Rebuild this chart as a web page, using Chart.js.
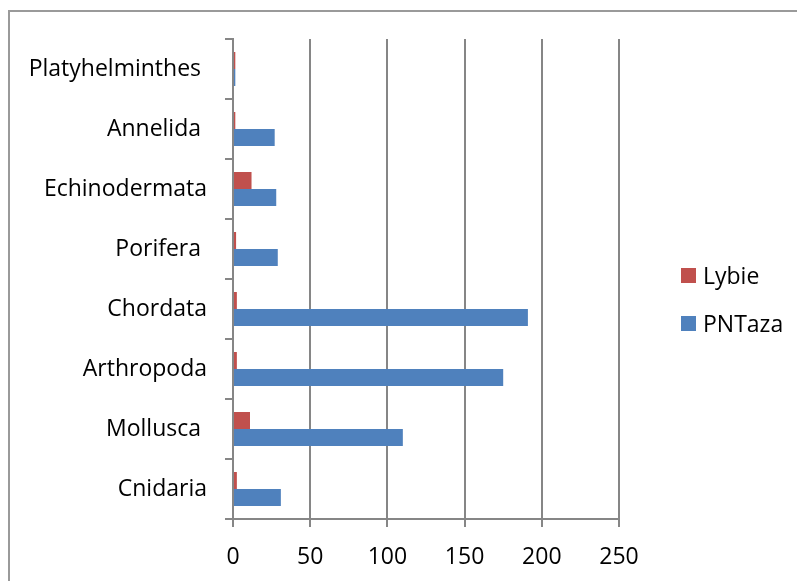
<!DOCTYPE html>
<html>
<head>
<meta charset="utf-8">
<script src="https://cdn.jsdelivr.net/npm/chart.js@4.4.1/dist/chart.umd.min.js"></script>
<style>
  html, body { margin: 0; padding: 0; background: #fff; overflow: hidden; }
  #wrap { position: relative; width: 797px; height: 581px; }
  #frame {
    position: absolute; left: 8px; top: 10px; width: 820px; height: 620px;
    border: 2px solid #9a9a9a; box-sizing: border-box;
  }
  #chart { position: absolute; left: 0; top: 0; }
  #legend {
    position: absolute; left: 681px; top: 251px;
    font-family: "Open Sans", sans-serif; font-size: 23px; color: #000;
  }
  .item { display: flex; align-items: center; height: 48px; }
  .swatch { width: 15px; height: 15px; margin-right: 7px; }
</style>
</head>
<body>
<div id="wrap">
  <div id="frame"></div>
  <canvas id="chart" width="797" height="581"></canvas>
  <div id="legend"></div>
</div>
<script>
// categories top to bottom (trailing spaces as in the source labels)
const categories = [
  "Platyhelminthes ",
  "Annelida ",
  "Echinodermata",
  "Porifera ",
  "Chordata",
  "Arthropoda",
  "Mollusca ",
  "Cnidaria",
];
const lybie = [1.5, 1.5, 12, 2, 2.5, 2.5, 11, 2.5];
const pntaza = [1.5, 27, 28, 29, 191, 175, 110, 31];
const xTicks = [0, 50, 100, 150, 200, 250];

const RED = "#C0504D";
const BLUE = "#4F81BD";
const GRID = "#868686";
const FONT = { family: "'Open Sans', sans-serif", size: 23 };

const datasets = [
  { label: "Lybie", data: lybie, backgroundColor: RED },
  { label: "PNTaza", data: pntaza, backgroundColor: BLUE },
];

const chart = new Chart(document.getElementById("chart"), {
  type: "bar",
  data: { labels: categories, datasets },
  options: {
    indexAxis: "y",
    responsive: false,
    animation: false,
    datasets: {
      bar: { categoryPercentage: 34 / 60, barPercentage: 1, borderWidth: 0 },
    },
    layout: { padding: { left: 0, right: 178, top: 39, bottom: 0 } },
    scales: {
      x: {
        min: xTicks[0],
        max: xTicks[xTicks.length - 1],
        afterBuildTicks: (scale) => {
          scale.ticks = xTicks.map((v) => ({ value: v }));
        },
        afterFit: (scale) => { scale.height = 62; },
        ticks: { color: "#000", font: FONT, padding: 17 },
        grid: { color: GRID, lineWidth: 2, tickLength: 8 },
        border: { color: GRID, width: 2 },
      },
      y: {
        afterFit: (scale) => { scale.width = 233; },
        ticks: { color: "#000", font: FONT, padding: 18, autoSkip: false },
        grid: { drawOnChartArea: false, color: GRID, lineWidth: 2, tickLength: 8 },
        border: { color: GRID, width: 2 },
      },
    },
    plugins: {
      legend: { display: false },
      tooltip: { enabled: false },
    },
  },
});

const legend = document.getElementById("legend");
chart.data.datasets.forEach((ds) => {
  const item = document.createElement("div");
  item.className = "item";
  const sw = document.createElement("span");
  sw.className = "swatch";
  sw.style.background = ds.backgroundColor;
  const txt = document.createElement("span");
  txt.textContent = ds.label;
  item.appendChild(sw);
  item.appendChild(txt);
  legend.appendChild(item);
});
</script>
</body>
</html>
